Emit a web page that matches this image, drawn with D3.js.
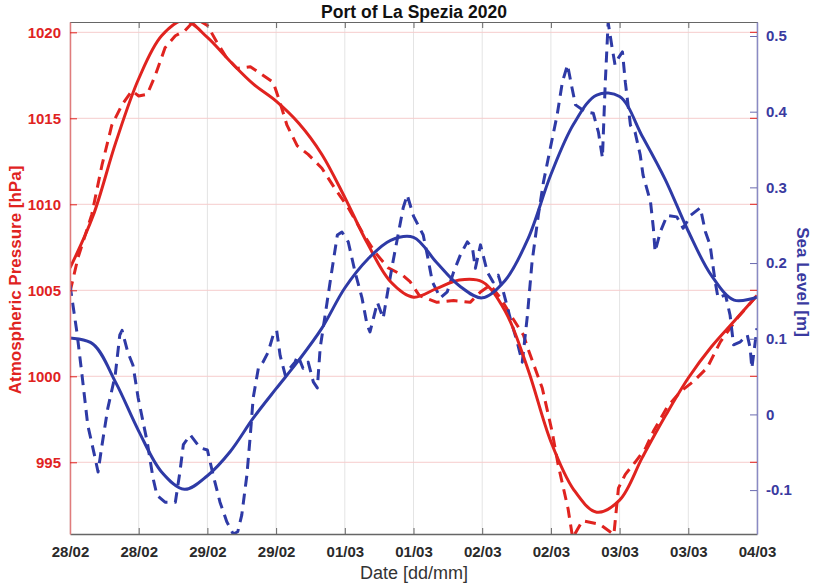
<!DOCTYPE html>
<meta charset="utf-8">
<head>
	<title>Port of La Spezia 2020</title>
</head>

<style>
	body { margin: 0; background: #fff; }
	svg text { font-family: "Liberation Sans", Arial, Helvetica, sans-serif; }
</style>

<body>
	<svg width="815" height="587"></svg>

	<script src="https://cdn.jsdelivr.net/npm/d3@7"></script>
	<script>
// x ticks every 12 hours from 28/02 00:00
var tickHours = [0, 12, 24, 36, 48, 60, 72, 84, 96, 108, 120];
var tickLabels = ["28/02", "28/02", "29/02", "29/02", "01/03", "01/03", "02/03", "02/03", "03/03", "03/03", "04/03"];
var pressTicks = [995, 1000, 1005, 1010, 1015, 1020];
var seaTicks = [-0.1, 0, 0.1, 0.2, 0.3, 0.4, 0.5];
var seaTickLabels = ["-0.1", "0", "0.1", "0.2", "0.3", "0.4", "0.5"];

// fitted (smooth) curves, every 4 hours
var fitHours = [0, 4, 8, 12, 16, 20, 24, 28, 32, 36, 40, 44, 48, 52, 56, 60, 64, 68, 72, 76, 80, 84, 88, 92, 96, 100, 104, 108, 112, 116, 120];
var pressFit = [1006.3, 1009.3, 1013.6, 1017.3, 1019.8, 1020.7, 1019.7, 1018.3, 1017.0, 1016.0, 1014.7, 1012.9, 1010.4, 1007.7, 1005.5, 1004.6, 1005.1, 1005.6, 1005.5, 1003.8, 1000.4, 996.2, 993.4, 992.1, 992.8, 995.3, 997.7, 999.9, 1001.7, 1003.2, 1004.7];
var seaFit = [0.101, 0.093, 0.042, -0.022, -0.076, -0.099, -0.081, -0.049, -0.005, 0.034, 0.072, 0.114, 0.167, 0.205, 0.230, 0.234, 0.201, 0.170, 0.154, 0.177, 0.232, 0.317, 0.384, 0.422, 0.420, 0.367, 0.310, 0.242, 0.184, 0.151, 0.155];

// observed pressure
var pressObsHours = [0, 1.4, 3.8, 5.6, 7.3, 9.1, 10.8, 12, 13.5, 14.9, 16.6, 18.4, 20.1, 21.5, 22.5, 24, 25.7, 27.4, 29.2, 31.5, 33.7, 35.5, 36.7, 37.9, 39.7, 41.6, 44, 46.3, 48.6, 51, 53.3, 55.6, 58, 59.4, 61, 64.1, 67, 69.9, 71.7, 73.4, 75.1, 76.9, 79.2, 80, 82.5, 84.2, 85.3, 87, 87.8, 89.5, 92.5, 95, 95.8, 97, 98.7, 100.5, 101.9, 104.3, 106.6, 108.9, 111.3, 113.6, 116.6, 120];
var pressObs = [1004.9, 1006.9, 1009.4, 1012.3, 1014.6, 1015.8, 1016.6, 1016.3, 1016.4, 1017.5, 1019.1, 1019.8, 1020.1, 1020.6, 1020.7, 1020.4, 1019.4, 1018.5, 1017.9, 1018.0, 1017.5, 1017.1, 1015.9, 1014.6, 1013.4, 1012.9, 1012.1, 1010.9, 1009.8, 1008.4, 1007.2, 1006.3, 1005.9, 1005.5, 1004.7, 1004.3, 1004.4, 1004.3, 1004.9, 1005.3, 1004.6, 1003.6, 1002.4, 1001.6, 999.3, 996.8, 994.8, 992.3, 990.6, 991.6, 991.4, 990.8, 993.5, 994.3, 995.0, 995.8, 996.8, 998.2, 999.1, 999.7, 1000.5, 1002.0, 1003.4, 1004.7];

// observed sea level
var seaObsHours = [0, 1.2, 2.1, 3.1, 4.4, 4.9, 5.6, 6.6, 7.9, 8.7, 9.1, 10.1, 11, 11.9, 13.5, 14.5, 15.2, 16.6, 18.4, 19.2, 19.8, 21, 22.7, 24, 25, 26.2, 27.4, 28.5, 29.3, 30, 30.9, 31.5, 32, 32.9, 33.7, 34.6, 35.5, 36.1, 36.7, 37.6, 38.4, 39.3, 39.8, 40.7, 41.6, 42.5, 43.2, 43.7, 44.9, 45.8, 46.7, 47.5, 48.6, 49.8, 51, 51.9, 52.4, 53.7, 54.7, 55.6, 56.4, 57.3, 58.2, 58.9, 60, 61.7, 62.4, 63.3, 64.7, 65.9, 67, 68.2, 69.4, 70.3, 70.8, 71.7, 72.9, 73.9, 74.8, 75.7, 76.9, 78.1, 79, 79.9, 80.7, 81.8, 82.7, 83.9, 85.1, 86, 86.9, 87.7, 88.3, 90, 91.4, 92.3, 93, 93.5, 94, 94.7, 95.2, 95.8, 96.5, 97, 97.9, 98.7, 99.6, 100.1, 101.4, 101.9, 102.2, 103.1, 104.3, 106, 107.1, 108.4, 110.1, 111, 111.8, 112.7, 113.2, 114.5, 115.3, 115.9, 117.1, 118.3, 118.8, 119.1, 120];
var seaObs = [0.171, 0.109, 0.052, -0.014, -0.058, -0.076, -0.040, 0.008, 0.052, 0.105, 0.111, 0.082, 0.065, 0.022, -0.037, -0.084, -0.107, -0.116, -0.116, -0.076, -0.040, -0.027, -0.044, -0.047, -0.080, -0.116, -0.142, -0.158, -0.155, -0.133, -0.080, -0.027, 0.022, 0.061, 0.069, 0.082, 0.105, 0.111, 0.078, 0.052, 0.061, 0.069, 0.078, 0.061, 0.069, 0.043, 0.035, 0.088, 0.148, 0.193, 0.237, 0.241, 0.228, 0.188, 0.154, 0.118, 0.109, 0.148, 0.127, 0.167, 0.201, 0.237, 0.273, 0.290, 0.262, 0.237, 0.211, 0.175, 0.154, 0.162, 0.188, 0.211, 0.228, 0.220, 0.193, 0.224, 0.188, 0.175, 0.184, 0.162, 0.127, 0.096, 0.069, 0.131, 0.201, 0.263, 0.307, 0.352, 0.396, 0.439, 0.462, 0.431, 0.409, 0.400, 0.398, 0.373, 0.339, 0.439, 0.518, 0.484, 0.462, 0.471, 0.479, 0.439, 0.382, 0.373, 0.343, 0.316, 0.281, 0.246, 0.215, 0.241, 0.263, 0.261, 0.246, 0.263, 0.273, 0.241, 0.224, 0.175, 0.154, 0.158, 0.131, 0.092, 0.096, 0.105, 0.088, 0.061, 0.114];

var red = "#e0231f", blue = "#2e3aa6";
var pLeft = 70, pRight = 757, pTop = 22, pBottom = 534;

var svg = d3.select("svg");

var x = d3.scaleLinear().domain([0, 120]).range([pLeft, pRight]);
var yP = d3.scaleLinear().domain([990.83, 1020.6]).range([pBottom, pTop]);
var yS = d3.scaleLinear().domain([-0.158, 0.5185]).range([pBottom, pTop]);

// grid
svg.append("g").selectAll("line").data(tickHours).enter().append("line")
	.attr("x1", function(d) {return x(d);}).attr("x2", function(d) {return x(d);})
	.attr("y1", pTop).attr("y2", pBottom)
	.attr("stroke", "#e4e4e4").attr("stroke-width", 1);
svg.append("g").selectAll("line").data(pressTicks).enter().append("line")
	.attr("x1", pLeft).attr("x2", pRight)
	.attr("y1", function(d) {return yP(d);}).attr("y2", function(d) {return yP(d);})
	.attr("stroke", "#f6cccc").attr("stroke-width", 1);

svg.append("defs").append("clipPath").attr("id", "clip")
	.append("rect").attr("x", pLeft).attr("y", pTop).attr("width", pRight - pLeft).attr("height", pBottom - pTop);

var plot = svg.append("g").attr("clip-path", "url(#clip)");

function addLine(hours, vals, yScale, color, dashed, curve) {
	var pts = hours.map(function(h, i) {return [h, vals[i]];});
	var line = d3.line()
		.x(function(d) {return x(d[0]);})
		.y(function(d) {return yScale(d[1]);})
		.curve(curve);
	plot.append("path")
		.datum(pts)
		.attr("d", line)
		.attr("fill", "none")
		.attr("stroke", color)
		.attr("stroke-width", 3)
		.attr("stroke-linejoin", "round")
		.attr("stroke-dasharray", dashed ? "11,7" : null);
}

addLine(pressObsHours, pressObs, yP, red, true, d3.curveLinear);
addLine(seaObsHours, seaObs, yS, blue, true, d3.curveLinear);
addLine(fitHours, pressFit, yP, red, false, d3.curveCatmullRom.alpha(0.5));
addLine(fitHours, seaFit, yS, blue, false, d3.curveCatmullRom.alpha(0.5));

// bottom axis
var xAxis = svg.append("g")
	.attr("transform", "translate(0," + pBottom + ")")
	.call(d3.axisBottom(x).tickValues(tickHours)
		.tickFormat(function(d, i) {return tickLabels[i];})
		.tickSize(-6).tickSizeOuter(0).tickPadding(12));
xAxis.select(".domain").attr("stroke", "#666").attr("stroke-width", 1.5);
xAxis.selectAll(".tick line").attr("stroke", "#666");
xAxis.selectAll("text").attr("fill", "#2a2a2a").attr("font-size", 15).attr("font-weight", "bold");

// top box line
var xTop = svg.append("g")
	.attr("transform", "translate(0," + pTop + ")")
	.call(d3.axisTop(x).tickValues(tickHours).tickFormat("").tickSize(-6).tickSizeOuter(0));
xTop.select(".domain").attr("stroke", "#666");
xTop.selectAll(".tick line").attr("stroke", "#666");

// left axis
var yAxisL = svg.append("g")
	.attr("transform", "translate(" + pLeft + ",0)")
	.call(d3.axisLeft(yP).tickValues(pressTicks).tickFormat(d3.format("d")).tickSize(-7).tickSizeOuter(0).tickPadding(9));
yAxisL.select(".domain").attr("stroke", "#e07c7c").attr("stroke-width", 1.5);
yAxisL.selectAll(".tick line").attr("stroke", red);
yAxisL.selectAll("text").attr("fill", red).attr("font-size", 15).attr("font-weight", "bold");

// right axis
var yAxisR = svg.append("g")
	.attr("transform", "translate(" + pRight + ",0)")
	.call(d3.axisRight(yS).tickValues(seaTicks)
		.tickFormat(function(d, i) {return seaTickLabels[i];})
		.tickSize(-7).tickSizeOuter(0).tickPadding(9));
yAxisR.select(".domain").attr("stroke", "#8a8ac4").attr("stroke-width", 1.5);
yAxisR.selectAll(".tick line").attr("stroke", "#6b6bb0");
yAxisR.selectAll("text").attr("fill", "#3a3aa0").attr("font-size", 15).attr("font-weight", "bold");

// left ticks mirrored on the right side
svg.append("g").selectAll("line").data(pressTicks).enter().append("line")
	.attr("x1", pRight - 7).attr("x2", pRight)
	.attr("y1", function(d) {return yP(d);}).attr("y2", function(d) {return yP(d);})
	.attr("stroke", red).attr("stroke-width", 1);

// titles
svg.append("text")
	.attr("x", 414).attr("y", 18)
	.attr("text-anchor", "middle")
	.attr("font-size", 17.5).attr("font-weight", "bold").attr("fill", "#111")
	.text("Port of La Spezia 2020");

svg.append("text")
	.attr("x", 414).attr("y", 579)
	.attr("text-anchor", "middle")
	.attr("font-size", 18).attr("fill", "#333")
	.text("Date [dd/mm]");

svg.append("text")
	.attr("transform", "translate(21,280) rotate(-90)")
	.attr("text-anchor", "middle")
	.attr("font-size", 17).attr("font-weight", "bold").attr("fill", red)
	.text("Atmospheric Pressure [hPa]");

svg.append("text")
	.attr("transform", "translate(797,282) rotate(90)")
	.attr("text-anchor", "middle")
	.attr("font-size", 17).attr("font-weight", "bold").attr("fill", "#3a3aa0")
	.text("Sea Level [m]");
	</script>
</body>
</html>
